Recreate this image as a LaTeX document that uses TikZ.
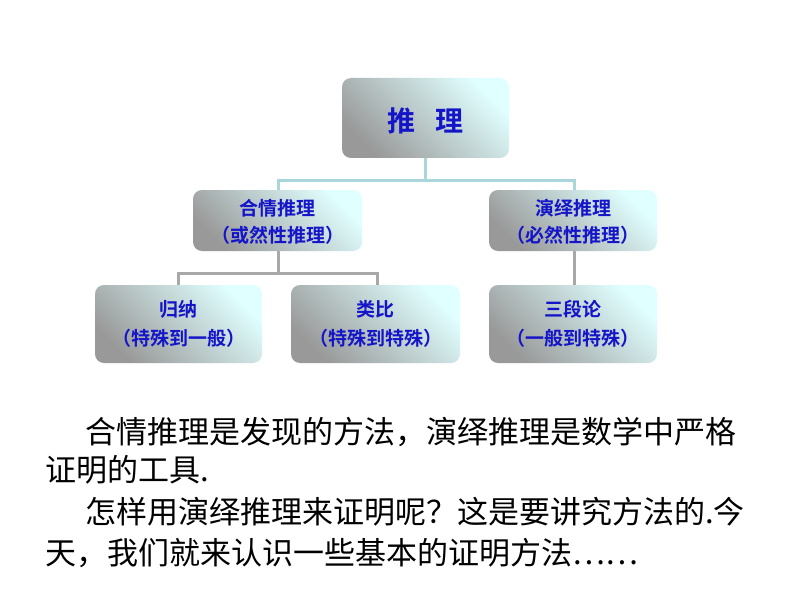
\documentclass[tikz,border=0pt]{standalone}
\usepackage{fontspec}
\newfontfamily\cjk{Noto Sans CJK SC}
\newfontfamily\cjkb{Noto Sans CJK SC Bold}
\definecolor{tblue}{HTML}{1414C8}
\definecolor{ctop}{HTML}{A9D6DA}
\definecolor{cgray}{HTML}{A8A8A8}
\tikzset{
 box/.style={rounded corners=9pt, left color=gray!80, right color=cyan!12!white, shading angle=135, draw=none},
 btext/.style={font=\cjkb, text=tblue, align=center},
 conn/.style={line width=3pt},
 body/.style={font=\cjk\fontsize{31}{34}\selectfont, anchor=west, inner sep=0}
}
\begin{document}
\begin{tikzpicture}[x=1pt,y=-1pt]
\useasboundingbox[fill=white] (0,0) rectangle (794,596);
\draw[conn, ctop] (425,158) -- (425,180) coordinate (t1);
\draw[conn, ctop] (278,190) -- (278,180) -- (574,180) -- (574,190);
\draw[conn, cgray] (278,251) -- (278,273) -- (178,273) -- (178,285);
\draw[conn, cgray] (278,273) -- (377,273) -- (377,285);
\draw[conn, cgray] (574,251) -- (574,285);
\shade[box] (342,78) rectangle (509,158);
\node[btext, font=\cjkb\fontsize{28}{30}\selectfont] (top) at (425.5,121) {推\hspace{0.7em}理};
\shade[box] (193,190) rectangle (362,251);
\node[btext, font=\cjkb\fontsize{19}{27}\selectfont] (ml) at (277.5,222) {合情推理\\（或然性推理）};
\shade[box] (489,190) rectangle (657,251);
\node[btext, font=\cjkb\fontsize{19}{27}\selectfont] (mr) at (573,222) {演绎推理\\（必然性推理）};
\shade[box] (95,285) rectangle (262,363);
\node[btext, font=\cjkb\fontsize{19}{29}\selectfont] (b1) at (178.5,324) {归纳\\（特殊到一般）};
\shade[box] (291,285) rectangle (460,363);
\node[btext, font=\cjkb\fontsize{19}{29}\selectfont] (b2) at (375.5,324) {类比\\（特殊到特殊）};
\shade[box] (489,285) rectangle (657,363);
\node[btext, font=\cjkb\fontsize{19}{29}\selectfont] (b3) at (573,324) {三段论\\（一般到特殊）};
\node[body] (l1) at (85,432) {合情推理是发现的方法，演绎推理是数学中严格};
\node[body] (l2) at (45,470) {证明的工具.};
\node[body] (l3) at (85,512) {怎样用演绎推理来证明呢？这是要讲究方法的.今};
\node[body] (l4) at (45,553) {天，我们就来认识一些基本的证明方法……};
\end{tikzpicture}
\end{document}
